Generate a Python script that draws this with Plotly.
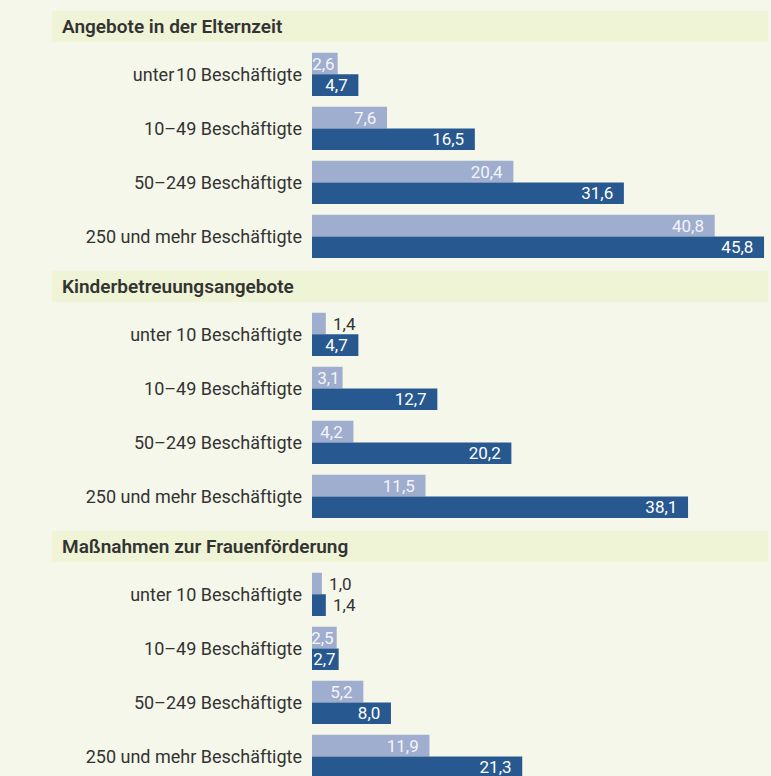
import plotly.graph_objects as go

# ---------------- data ----------------
section_titles = [
    "Angebote in der Elternzeit",
    "Kinderbetreuungsangebote",
    "Maßnahmen zur Frauenförderung",
]
categories = [
    ["unter\u200a10 Beschäftigte", "10–49 Beschäftigte", "50–249 Beschäftigte", "250 und mehr Beschäftigte"],
    ["unter 10 Beschäftigte", "10–49 Beschäftigte", "50–249 Beschäftigte", "250 und mehr Beschäftigte"],
    ["unter 10 Beschäftigte", "10–49 Beschäftigte", "50–249 Beschäftigte", "250 und mehr Beschäftigte"],
]
series_names = ["Erhebung 1", "Erhebung 2"]
elternzeit_light = [2.6, 7.6, 20.4, 40.8]
elternzeit_dark = [4.7, 16.5, 31.6, 45.8]
kinder_light = [1.4, 3.1, 4.2, 11.5]
kinder_dark = [4.7, 12.7, 20.2, 38.1]
frauen_light = [1.0, 2.5, 5.2, 11.9]
frauen_dark = [1.4, 2.7, 8.0, 21.3]

sections = [
    (elternzeit_light, elternzeit_dark),
    (kinder_light, kinder_dark),
    (frauen_light, frauen_dark),
]

# ---------------- style ----------------
W, H = 771, 776
BG = "#f5f7ea"
HEADER_BG = "#eef4d5"
LIGHT = "#9fadcf"
DARK = "#285890"
TEXT = "#333333"
FONT = "Roboto"

X0_PX = 312          # zero line of the bars
PX_PER_UNIT = 9.87
SECTION_PITCH = 260
HEADER_TOP, HEADER_H = 11, 31
SLOT_TOP, SLOT_BOTTOM = 47.3, 263.5

def fmt(v):
    return f"{v:.1f}".replace(".", ",")

fig = go.Figure()

for si, (light, dark) in enumerate(sections):
    yname = "y" if si == 0 else f"y{si + 1}"
    for vals, color, tcol, name in [
        (light, LIGHT, "#f4f5f8", series_names[0]),
        (dark, DARK, "#ffffff", series_names[1]),
    ]:
        texts, positions, colors = [], [], []
        for v in vals:
            if v < 1.5:
                texts.append("\u00a0" + fmt(v))
                positions.append("outside")
                colors.append(TEXT)
            elif v < 3.5:
                texts.append(fmt(v))
                positions.append("inside")
                colors.append(tcol)
            else:
                texts.append(fmt(v) + "\u00a0\u2009")
                positions.append("inside")
                colors.append(tcol)
        fig.add_trace(go.Bar(
            x=vals, y=categories[si], orientation="h",
            name=name, marker=dict(color=color, line=dict(width=0)),
            text=texts, textposition=positions,
            insidetextanchor="end", constraintext="none",
            textfont=dict(family=FONT, size=17, color=colors),
            cliponaxis=False,
            xaxis="x", yaxis=yname, showlegend=False,
            hoverinfo="skip",
        ))

layout_axes = {}
for si in range(3):
    top = SLOT_TOP + si * SECTION_PITCH
    bottom = SLOT_BOTTOM + si * SECTION_PITCH
    rng = [3.5, -0.5]
    if bottom > H:
        cut = (bottom - H) / ((SLOT_BOTTOM - SLOT_TOP) / 4)
        rng = [3.5 - cut, -0.5]
        bottom = H
    key = "yaxis" if si == 0 else f"yaxis{si + 1}"
    layout_axes[key] = dict(
        domain=[1 - bottom / H, 1 - top / H],
        range=rng, anchor="x",
        showgrid=False, zeroline=False, showline=False, ticks="",
        ticklabelstandoff=9,
        tickfont=dict(family=FONT, size=18, color=TEXT),
    )

shapes, annotations = [], []
for si, title in enumerate(section_titles):
    y_top = HEADER_TOP + si * SECTION_PITCH
    shapes.append(dict(
        type="rect", xref="paper", yref="paper", layer="below",
        x0=52 / W, x1=768 / W,
        y0=1 - (y_top + HEADER_H) / H, y1=1 - y_top / H,
        fillcolor=HEADER_BG, line=dict(width=0),
    ))
    annotations.append(dict(
        text=title, xref="paper", yref="paper",
        x=60 / W, y=1 - (y_top + HEADER_H / 2) / H,
        xanchor="left", yanchor="middle", showarrow=False,
        font=dict(family=FONT, size=19, color=TEXT, weight=600),
    ))

fig.update_layout(
    width=W, height=H,
    margin=dict(l=0, r=0, t=0, b=0),
    paper_bgcolor=BG, plot_bgcolor=BG,
    barmode="group", bargap=0.2, bargroupgap=0,
    xaxis=dict(domain=[X0_PX / W, 1], range=[0, (W - X0_PX) / PX_PER_UNIT],
               visible=False, fixedrange=True),
    shapes=shapes, annotations=annotations,
    uniformtext=dict(mode="show", minsize=17),
    **layout_axes,
)

fig.write_html(
    "out.html",
    config={"displayModeBar": False},
    post_script="document.body.style.margin='0';document.body.style.padding='0';"
                "document.documentElement.style.background='#f5f7ea';",
)
